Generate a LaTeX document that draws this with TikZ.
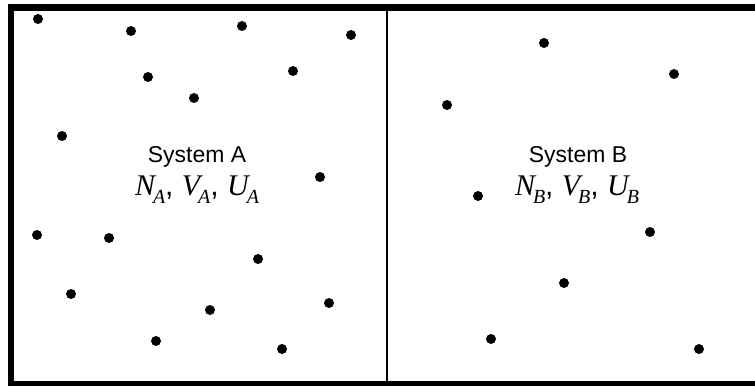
\documentclass[tikz,border=0pt]{standalone}
\usepackage{fontspec}
\setmainfont{Liberation Sans}
\newfontfamily\timesfont{Liberation Serif}
\newcommand{\stvar}[2]{{\timesfont\itshape #1\kern-1.5pt\raisebox{-6pt}{\fontsize{15}{15}\selectfont #2}}}
\begin{document}
\begin{tikzpicture}[x=0.75pt,y=-0.75pt,
		particle/.style={circle, fill=black, inner sep=0pt, minimum size=7.5pt},
		label/.style={anchor=base, font=\fontsize{17.2}{19}\selectfont},
		state/.style={anchor=base, font=\fontsize{22.5}{24}\selectfont}
	]
		\useasboundingbox (0,0) rectangle (755,385);
		\clip (0,0) rectangle (755,385);
		\draw[line width=4.8pt] (11,7.5) rectangle (765,384.5);
		\draw[line width=0.9pt] (387,7.5) -- (387,384.5);

		\node[label] (sysA) at (197,162) {System A};
		\node[state] (stateA) at (197,195)
			{\stvar{N}{A}, \stvar{V}{A}, \stvar{U}{A}};
		\node[label] (sysB) at (578,162) {System B};
		\node[state] (stateB) at (577,195)
			{\stvar{N}{B}, \stvar{V}{B}, \stvar{U}{B}};

		\node[particle] (a1) at (38,19) {};
		\node[particle] (a2) at (131,31) {};
		\node[particle] (a3) at (242,26) {};
		\node[particle] (a4) at (351,35) {};
		\node[particle] (a5) at (148,77) {};
		\node[particle] (a6) at (293,71) {};
		\node[particle] (a7) at (194,98) {};
		\node[particle] (a8) at (62,136) {};
		\node[particle] (a9) at (320,177) {};
		\node[particle] (a10) at (37,235) {};
		\node[particle] (a11) at (109,238) {};
		\node[particle] (a12) at (258,259) {};
		\node[particle] (a13) at (71,294) {};
		\node[particle] (a14) at (210,310) {};
		\node[particle] (a15) at (329,303) {};
		\node[particle] (a16) at (156,341) {};
		\node[particle] (a17) at (282,349) {};

		\node[particle] (b1) at (544,43) {};
		\node[particle] (b2) at (674,74) {};
		\node[particle] (b3) at (447,105) {};
		\node[particle] (b4) at (478,196) {};
		\node[particle] (b5) at (650,232) {};
		\node[particle] (b6) at (564,283) {};
		\node[particle] (b7) at (491,339) {};
		\node[particle] (b8) at (699,349) {};
	\end{tikzpicture}
\end{document}
